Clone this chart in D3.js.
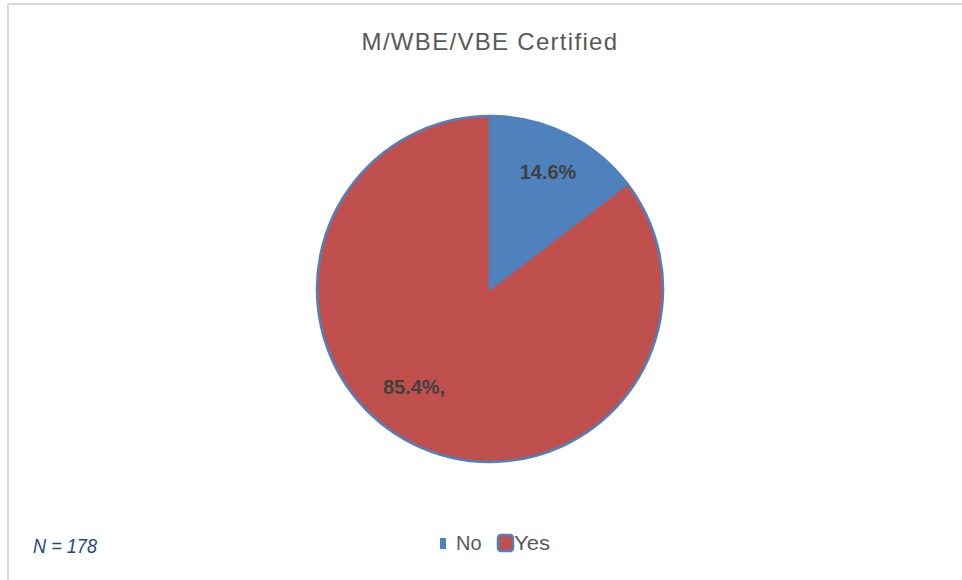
<!DOCTYPE html>
<html>
<head>
<meta charset="utf-8">
<script src="https://cdn.jsdelivr.net/npm/d3@7"></script>
<style>
  body { margin: 0; background: #fff; }
  text { font-family: "Liberation Sans", Arial, sans-serif; }
</style>
</head>
<body>
<div id="chart"></div>
<script>
// data
var categories = ["No", "Yes"];
var percents = [14.6, 85.4];
var labelTexts = ["14.6%", "85.4%,"];
var colors = ["#4f81bd", "#c0504d"];
var titleText = "M/WBE/VBE Certified";
var noteText = "N = 178";

var svgWidth = 962, svgHeight = 580;
var cx = 490, cy = 289, radius = 173;

var svg = d3.select("#chart")
  .append("svg")
  .attr("width", svgWidth)
  .attr("height", svgHeight);

// chart frame (only top & left edges show)
svg.append("rect")
  .attr("x", 8).attr("y", 4)
  .attr("width", svgWidth + 20).attr("height", svgHeight + 20)
  .attr("fill", "none")
  .attr("stroke", "#d9d9d9")
  .attr("stroke-width", 2);

svg.append("text")
  .attr("x", cx).attr("y", 50)
  .attr("text-anchor", "middle")
  .style("font-size", "24px")
  .style("letter-spacing", "1.3px")
  .style("fill", "#595959")
  .text(titleText);

var pie = d3.pie().sort(null).value(function(d){ return d; });
var arcs = pie(percents);

var arc = d3.arc().innerRadius(0).outerRadius(radius);

var pieGroup = svg.append("g")
  .attr("transform", `translate(${cx}, ${cy})`);

pieGroup.selectAll("path")
  .data(arcs)
  .enter()
  .append("path")
  .attr("d", arc)
  .attr("fill", function(d, i){ return colors[i]; })
  .attr("stroke", "#4f81bd")
  .attr("stroke-width", 2.5)
  .attr("stroke-linejoin", "round");

// data labels (Excel puts the big one a bit off centroid)
var labelShift = [0, 11.5];   // degrees
pieGroup.selectAll(".lbl")
  .data(arcs)
  .enter()
  .append("text")
  .attr("class", "lbl")
  .attr("transform", function(d, i){
    var a = (d.startAngle + d.endAngle) / 2 + labelShift[i] * Math.PI / 180;
    var r = i == 0 ? 131 : 124;
    return `translate(${r * Math.sin(a)}, ${-r * Math.cos(a)})`;
  })
  .attr("dy", "0.36em")
  .attr("text-anchor", "middle")
  .style("font-size", "20px")
  .style("font-weight", "bold")
  .style("fill", "#404040")
  .text(function(d, i){ return labelTexts[i]; });

// legend
var legend = svg.append("g").attr("transform", "translate(0, 550)");

legend.append("rect")
  .attr("x", 440).attr("y", -12)
  .attr("width", 6).attr("height", 11)
  .attr("fill", colors[0]);
legend.append("text")
  .attr("x", 456).attr("y", 0)
  .style("font-size", "20px")
  .style("fill", "#595959")
  .text(categories[0]);

legend.append("rect")
  .attr("x", 498).attr("y", -15)
  .attr("width", 15).attr("height", 16)
  .attr("rx", 3)
  .attr("fill", colors[1])
  .attr("stroke", "#4f81bd")
  .attr("stroke-width", 2.5);
legend.append("text")
  .attr("x", 514).attr("y", 0)
  .attr("textLength", 36)
  .attr("lengthAdjust", "spacingAndGlyphs")
  .style("font-size", "20px")
  .style("fill", "#595959")
  .text(categories[1]);

svg.append("text")
  .attr("x", 33).attr("y", 553)
  .attr("textLength", 64)
  .attr("lengthAdjust", "spacingAndGlyphs")
  .style("font-size", "21px")
  .style("font-style", "italic")
  .style("fill", "#1f497d")
  .text(noteText);
</script>
</body>
</html>
